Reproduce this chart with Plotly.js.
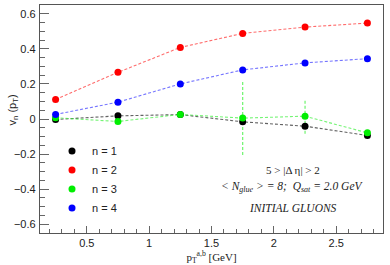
<!DOCTYPE html>
<html><head><meta charset="utf-8">
<script src="https://cdn.plot.ly/plotly-3.0.1.min.js"></script>
<style>html,body{margin:0;padding:0;background:#fff}#c{width:390px;height:265px}</style>
</head><body><div id="c"></div>
<script>
var pt = [0.25, 0.75, 1.25, 1.75, 2.25, 2.75];
var v1 = [-0.003, 0.018, 0.025, -0.016, -0.041, -0.094];
var v2 = [0.111, 0.266, 0.408, 0.488, 0.524, 0.547];
var v3 = [0.007, -0.014, 0.026, 0.005, 0.016, -0.079];
var v4 = [0.026, 0.096, 0.200, 0.280, 0.320, 0.344];
var e3 = [0, 0, 0, 0.21, 0.10, 0];
var names = ['n = 1', 'n = 2', 'n = 3', 'n = 4'];

var markerCols = ['#000000', '#ff0000', '#00ee00', '#0000ff'];
var lineCols = ['rgba(60,60,60,0.8)', 'rgba(255,60,60,0.75)', 'rgba(60,240,60,0.7)', 'rgba(60,60,255,0.7)'];
var series = [v1, v2, v3, v4];

var traces = [];
var ex = [], ey = [];
for (var i = 0; i < pt.length; i++) {
  if (e3[i] > 0) { ex.push(pt[i], pt[i], null); ey.push(v3[i] - e3[i], v3[i] + e3[i], null); }
}
traces.push({x: ex, y: ey, mode: 'lines', showlegend: false, hoverinfo: 'skip',
  line: {color: 'rgba(60,240,60,0.75)', width: 1.2, dash: '3px,2px'}});
series.forEach(function (s, k) {
  traces.push({x: pt, y: s, mode: 'lines', showlegend: false,
    line: {color: lineCols[k], width: 1.1, dash: '3px,2px'}});
});
series.forEach(function (s, k) {
  traces.push({x: pt, y: s, mode: 'markers', name: names[k],
    marker: {color: markerCols[k], size: 7}});
});

var tickFont = {family: 'Liberation Sans, Arial, sans-serif', size: 11, color: '#222'};
var serif = 'Liberation Serif, Times New Roman, serif';
var layout = {
  width: 390, height: 265,
  margin: {l: 40, r: 7, t: 5, b: 32},
  paper_bgcolor: '#fff', plot_bgcolor: '#fff',
  showlegend: true,
  legend: {x: 0.035, y: 0.423, xanchor: 'left', yanchor: 'top', bgcolor: 'rgba(0,0,0,0)',
    font: tickFont, itemwidth: 30, tracegroupgap: 0},
  xaxis: {range: [0.125, 2.875], tick0: 0, dtick: 0.5, ticks: 'inside', ticklen: 7,
    tickcolor: '#666', tickwidth: 1, showgrid: false, zeroline: false,
    showline: true, linecolor: '#555', linewidth: 1.2, mirror: true,
    tickfont: tickFont,
    minor: {dtick: 0.1, ticks: 'inside', ticklen: 4, tickcolor: '#666', showgrid: false},
    title: {text: 'p<sub>T</sub><sup>a,b</sup> [GeV]', standoff: 4,
      font: {family: serif, size: 11, color: '#222'}}},
  yaxis: {range: [-0.65, 0.65], tick0: 0, dtick: 0.2, ticks: 'inside', ticklen: 9,
    tickcolor: '#666', tickwidth: 1, showgrid: false, zeroline: false,
    showline: true, linecolor: '#555', linewidth: 1.2, mirror: true,
    tickfont: tickFont, ticklabelstandoff: 1,
    minor: {dtick: 0.05, ticks: 'inside', ticklen: 5, tickcolor: '#666', showgrid: false}},
  annotations: [
    {xref: 'paper', yref: 'paper', x: -0.08, y: 0.54, xanchor: 'center', yanchor: 'middle',
      textangle: -90, showarrow: false, text: 'v<sub>n</sub> (p<sub>T</sub>)',
      font: {family: 'Liberation Sans, Arial, sans-serif', size: 11, color: '#222'}},
    {xref: 'x', yref: 'y', x: 2.15, y: -0.293, xanchor: 'center', yanchor: 'middle', showarrow: false,
      text: '5 > |Δ η| > 2',
      font: {family: serif, size: 11, color: '#222'}},
    {xref: 'x', yref: 'y', x: 2.15, y: -0.39, xanchor: 'center', yanchor: 'middle', showarrow: false,
      text: '<i>< N<sub>glue</sub> > = 8;  Q<sub>sat</sub> = 2.0 GeV</i>',
      font: {family: serif, size: 11.5, color: '#222'}},
    {xref: 'x', yref: 'y', x: 2.15, y: -0.509, xanchor: 'center', yanchor: 'middle', showarrow: false,
      text: '<i>INITIAL GLUONS</i>',
      font: {family: serif, size: 11.5, color: '#222'}}
  ]
};
Plotly.newPlot('c', traces, layout, {staticPlot: true, displayModeBar: false});
</script></body></html>
